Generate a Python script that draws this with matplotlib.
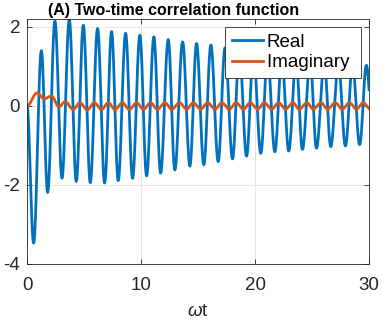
import numpy as np
import matplotlib
matplotlib.use("Agg")
import matplotlib.pyplot as plt

plt.rcParams["font.family"] = ["Liberation Sans", "DejaVu Sans"]
plt.rcParams["axes.unicode_minus"] = False
plt.rcParams["mathtext.fontset"] = "custom"
plt.rcParams["mathtext.it"] = "Liberation Sans:italic"
plt.rcParams["mathtext.rm"] = "Liberation Sans"

# extrema (time, value)
real_t = [0, 0.58, 1.26, 1.81, 2.45, 3.07, 3.71, 4.32, 4.94, 5.55, 6.19, 6.81, 7.42,
          8.0, 8.65, 9.26, 9.90, 10.49, 11.13, 11.72, 12.39, 12.97, 13.65, 14.29,
          14.87, 15.51, 16.13, 16.77, 17.37, 18.03, 18.62, 19.26, 19.86, 20.51,
          21.1, 21.74, 22.35, 22.96, 23.6, 24.16, 24.84, 25.39, 26.08, 26.64,
          27.32, 27.93, 28.56, 29.18, 29.77, 30.39]
real_v = [0, -3.47, 1.40, -2.19, 2.15, -1.83, 2.18, -1.91, 2.04, -1.94, 1.96, -1.95, 1.88,
          -1.89, 1.84, -1.83, 1.79, -1.77, 1.75, -1.70, 1.68, -1.62, 1.62, -1.52,
          1.58, -1.49, 1.54, -1.41, 1.47, -1.34, 1.40, -1.27, 1.33, -1.20,
          1.27, -1.16, 1.21, -1.14, 1.16, -1.10, 1.12, -1.07, 1.08, -1.03,
          1.05, -1.01, 1.03, -0.98, 1.03, -0.97]

imag_t = [0, 0.88, 1.5, 2.15, 2.8, 3.36, 4.05, 4.64, 5.29, 5.9, 6.53, 7.14, 7.72,
          8.37, 8.98, 9.62, 10.21, 10.85, 11.44, 12.11, 12.69, 13.37, 14.01, 14.59,
          15.23, 15.85, 16.49, 17.09, 17.75, 18.34, 18.98, 19.58, 20.23, 20.82,
          21.46, 22.07, 22.68, 23.32, 23.88, 24.56, 25.11, 25.80, 26.36, 27.04,
          27.65, 28.28, 28.90, 29.49, 30.11]
imag_v = [0, 0.33, 0.18, 0.25, -0.02, 0.11, -0.09, 0.08, -0.10, 0.08, -0.09, 0.08, -0.09,
          0.08, -0.09, 0.08, -0.085, 0.08, -0.085, 0.08, -0.085, 0.08, -0.08, 0.08,
          -0.08, 0.08, -0.08, 0.08, -0.08, 0.08, -0.08, 0.08, -0.08, 0.08,
          -0.08, 0.08, -0.08, 0.08, -0.08, 0.08, -0.08, 0.08, -0.08, 0.08,
          -0.08, 0.08, -0.08, 0.08, -0.08]

xticks = [0, 10, 20, 30]
yticks = [-4, -2, 0, 2]


def smooth(tk, vk, n=40):
    # half-cosine between neighbouring extrema
    xs, ys = [], []
    for i in range(len(tk) - 1):
        s = np.linspace(0, 1, n, endpoint=False)
        xs.append(tk[i] + (tk[i + 1] - tk[i]) * s)
        ys.append(vk[i] + (vk[i + 1] - vk[i]) * (1 - np.cos(np.pi * s)) / 2)
    xs.append([tk[-1]])
    ys.append([vk[-1]])
    return np.concatenate(xs), np.concatenate(ys)


fig = plt.figure(figsize=(3.82, 3.2), dpi=100)
ax = fig.add_axes([27 / 382, 1 - 264 / 320, 342 / 382, 245 / 320])

rx, ry = smooth(real_t, real_v)
ix, iy = smooth(imag_t, imag_v)
ax.plot(rx, ry, color="#0072BD", lw=2.0, label="Real")
ax.plot(ix, iy, color="#D95319", lw=2.0, label="Imaginary ")

ax.set_xlim(0, 30)
ax.set_ylim(-4, 2.2)
ax.set_xticks(xticks)
ax.set_yticks(yticks)
ax.grid(True, color="#e6e6e6", lw=0.7)
ax.set_axisbelow(True)
ax.tick_params(direction="in", length=3.5, width=0.6, top=True, right=True,
               labelsize=13.5, colors="#262626")
ax.tick_params(axis="x", pad=9.5)
ax.tick_params(axis="y", pad=5)
for sp in ax.spines.values():
    sp.set_color("#262626")
    sp.set_linewidth(0.6)

ax.set_xlabel(r"$\omega$t", fontsize=13.5, color="#262626", labelpad=6.5)
ax.set_title("(A) Two-time correlation function", fontsize=11.5, fontweight="bold",
             x=0.43, pad=3)

leg = ax.legend(loc="upper right", fontsize=13.5, fancybox=False, framealpha=1,
                edgecolor="#262626", handlelength=1.65, handletextpad=0.2,
                borderpad=0.35, labelspacing=0.17, borderaxespad=0.43)
leg.get_frame().set_linewidth(0.6)

fig.savefig("out.png", dpi=100)
